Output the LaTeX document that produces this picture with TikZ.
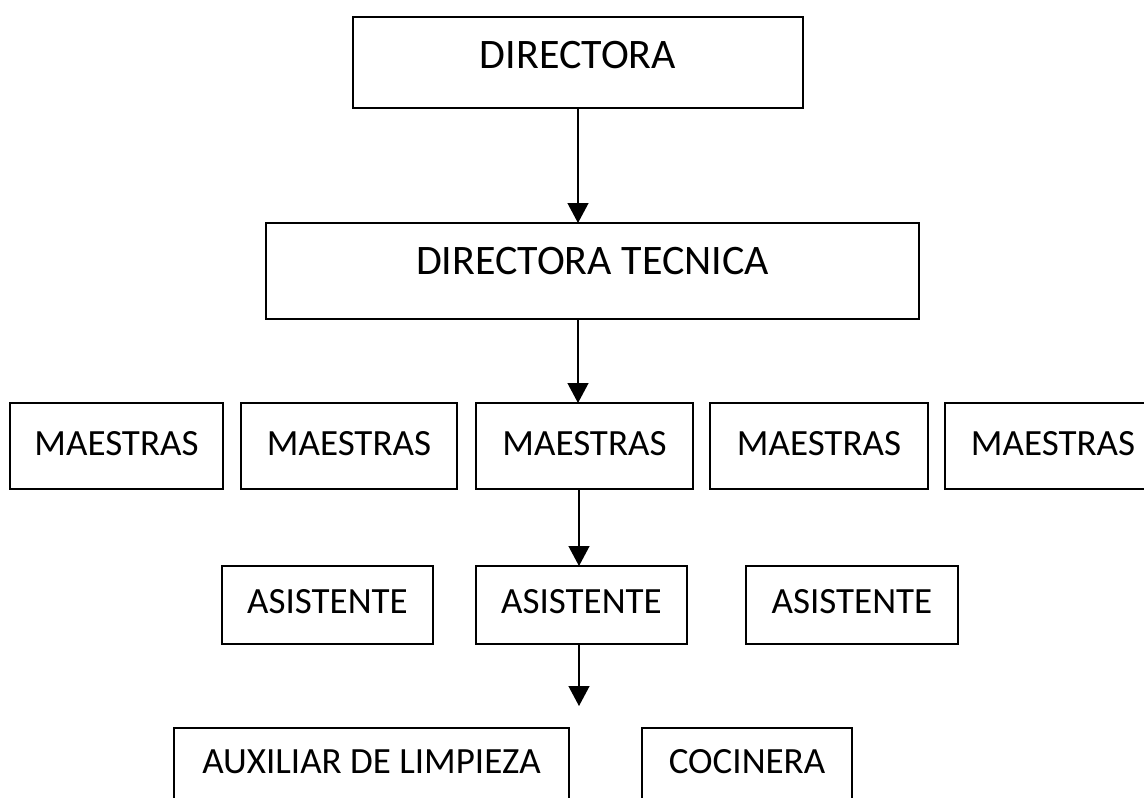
\documentclass[tikz,border=0pt]{standalone}
\usepackage{fontspec}
\setmainfont{Carlito}
\usetikzlibrary{arrows.meta}
\begin{document}
\begin{tikzpicture}[x=1pt,y=-1pt,
  box/.style={draw=black,line width=1.8pt,rectangle,inner sep=0pt,outer sep=0pt},
  bigtxt/.style={font=\fontsize{42}{50}\selectfont,anchor=base,inner sep=0pt},
  smalltxt/.style={font=\fontsize{37}{44}\selectfont,anchor=base,inner sep=0pt},
  arr/.style={line width=1.3pt,-{Triangle[width=21pt,length=20pt]}}]
\useasboundingbox (0,0) rectangle (1144,798);
\fill[white] (0,0) rectangle (1144,798);
\clip (0,0) rectangle (1144,798);
% level 1
\node[box,minimum width=450pt,minimum height=91pt] (dir) at (578,62.5) {};
\node[bigtxt] (tdir) at (578,68) {DIRECTORA};
% level 2
\node[box,minimum width=653pt,minimum height=96pt] (dt) at (592.5,271) {};
\node[bigtxt] (tdt) at (592.5,274) {DIRECTORA TECNICA};
% level 3
\node[box,minimum width=213pt,minimum height=86pt] (m1) at (116.5,446) {};
\node[box,minimum width=216pt,minimum height=86pt] (m2) at (349,446) {};
\node[box,minimum width=217pt,minimum height=86pt] (m3) at (584.5,446) {};
\node[box,minimum width=218pt,minimum height=86pt] (m4) at (819,446) {};
\node[box,minimum width=216pt,minimum height=86pt] (m5) at (1053,446) {};
\node[smalltxt] (tm1) at (116.5,455) {MAESTRAS};
\node[smalltxt] (tm2) at (349,455) {MAESTRAS};
\node[smalltxt] (tm3) at (584.5,455) {MAESTRAS};
\node[smalltxt] (tm4) at (819,455) {MAESTRAS};
\node[smalltxt] (tm5) at (1053,455) {MAESTRAS};
% level 4
\node[box,minimum width=211pt,minimum height=78pt] (a1) at (327.5,605) {};
\node[box,minimum width=211pt,minimum height=78pt] (a2) at (581.5,605) {};
\node[box,minimum width=212pt,minimum height=78pt] (a3) at (852,605) {};
\node[smalltxt] (ta1) at (327.5,613) {ASISTENTE};
\node[smalltxt] (ta2) at (581.5,613) {ASISTENTE};
\node[smalltxt] (ta3) at (852,613) {ASISTENTE};
% level 5
\node[box,minimum width=395pt,minimum height=90pt] (aux) at (371.5,773) {};
\node[box,minimum width=210pt,minimum height=90pt] (coc) at (747,773) {};
\node[smalltxt] (taux) at (371.5,773) {AUXILIAR DE LIMPIEZA};
\node[smalltxt] (tcoc) at (747,773) {COCINERA};
% connectors
\coordinate (tip) at (579,706);
\draw[arr] (dir.south) -- (dir.south |- dt.north);
\draw[arr] (dir.south |- dt.south) -- (dir.south |- m3.north);
\draw[arr] (tip |- m3.south) -- (tip |- a2.north);
\draw[arr] (tip |- a2.south) -- (tip);
\end{tikzpicture}
\end{document}
